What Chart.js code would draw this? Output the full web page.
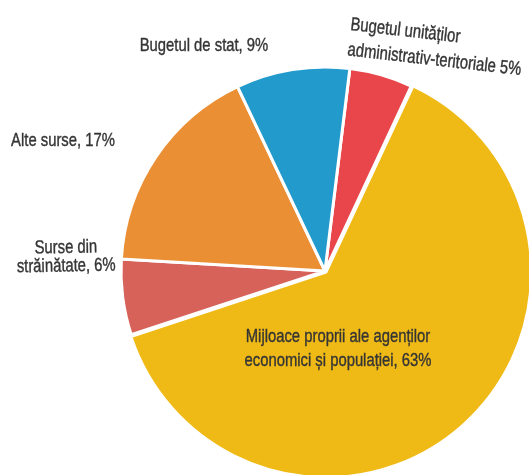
<!DOCTYPE html>
<html lang="ro">
<head>
<meta charset="utf-8">
<title>Surse de finanțare</title>
<script src="https://cdn.jsdelivr.net/npm/chart.js@4.4.1/dist/chart.umd.min.js"></script>
<style>
  html, body { margin: 0; padding: 0; background: #fff; overflow: hidden; }
  #sources { display: block; }
</style>
</head>
<body>
<canvas id="sources" width="529" height="475"></canvas>
<script>
const categories = [
  "Bugetul unităților administrativ-teritoriale",
  "Mijloace proprii ale agenților economici și populației",
  "Surse din străinătate",
  "Alte surse",
  "Bugetul de stat",
];
const shares = [5, 63, 6, 17, 9];
const sliceColors = ["#e8464a", "#f0ba16", "#d6625a", "#eb8f35", "#229bcc"];

// label text, {p} is replaced by the share
const labelLines = [
  ["Bugetul unităților", "administrativ-teritoriale {p}%"],
  ["Mijloace proprii ale agenților", "economici și populației, {p}%"],
  ["Surse din", "străinătate, {p}%"],
  ["Alte surse, {p}%"],
  ["Bugetul de stat, {p}%"],
];

// where each label sits, measured from the pie centre
const labelPlaces = [
  { dx: 25, dy: -241, align: "left", angle: 6.5, lead: 25.5 },
  { dx: 13, dy: 71, align: "center", angle: 0, lead: 24 },
  { dx: -259, dy: -18, align: "center", angle: -1, lead: 18.5 },
  { dx: -262, dy: -125, align: "center", angle: 0, lead: 22 },
  { dx: -121, dy: -220, align: "center", angle: 0, lead: 22 },
];

// no condensed face installed, so the regular one is squeezed sideways
const LABEL_FONT = "19px 'Liberation Sans', Arial, sans-serif";
const SQUEEZE = 0.78;

const sliceLabels = {
  id: "sliceLabels",
  afterDatasetsDraw(chart) {
    const ctx = chart.ctx;
    const arcs = chart.getDatasetMeta(0).data;
    ctx.save();
    ctx.font = LABEL_FONT;
    ctx.fillStyle = "#353535";
    ctx.strokeStyle = "#353535";
    ctx.lineWidth = 0.4;
    ctx.textBaseline = "alphabetic";
    arcs.forEach((arc, i) => {
      const place = labelPlaces[i];
      ctx.save();
      ctx.translate(arc.x + place.dx, arc.y + place.dy);
      ctx.rotate(place.angle * Math.PI / 180);
      ctx.scale(SQUEEZE, 1);
      ctx.textAlign = place.align;
      labelLines[i].forEach((line, k) => {
        const text = line.replace("{p}", shares[i]);
        ctx.fillText(text, 0, k * place.lead);
        ctx.strokeText(text, 0, k * place.lead);
      });
      ctx.restore();
    });
    ctx.restore();
  },
};

new Chart(document.getElementById("sources"), {
  type: "pie",
  data: {
    labels: categories,
    datasets: [{
      data: shares,
      backgroundColor: sliceColors,
      borderColor: "#ffffff",
      borderWidth: 3,
      offset: [0, 6, 0, 0, 0],
      clip: false,
    }],
  },
  options: {
    responsive: false,
    animation: false,
    rotation: 7,
    radius: 204,
    layout: { padding: { left: 121, top: 67, right: 0, bottom: 0 } },
    plugins: {
      legend: { display: false },
      tooltip: { enabled: false },
    },
  },
  plugins: [sliceLabels],
});
</script>
</body>
</html>
